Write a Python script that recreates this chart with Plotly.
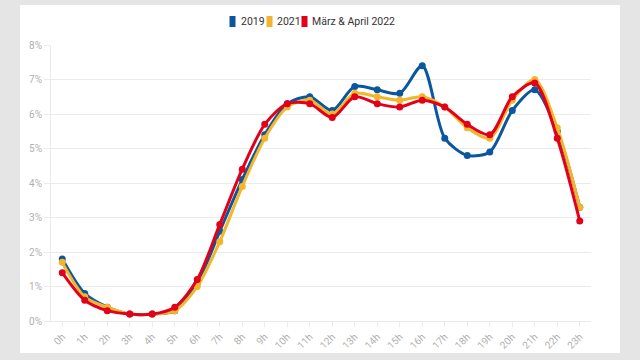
import plotly.graph_objects as go

hours = [f"{h}h" for h in range(24)]
y2019 = [1.8, 0.8, 0.4, 0.2, 0.2, 0.3, 1.1, 2.6, 4.1, 5.4, 6.3, 6.5, 6.1, 6.8, 6.7, 6.6, 7.4, 5.3, 4.8, 4.9, 6.1, 6.7, 5.5, 3.3]
y2021 = [1.7, 0.7, 0.4, 0.2, 0.2, 0.3, 1.0, 2.3, 3.9, 5.3, 6.2, 6.4, 6.0, 6.6, 6.5, 6.4, 6.5, 6.2, 5.6, 5.3, 6.4, 7.0, 5.6, 3.3]
y2022 = [1.4, 0.6, 0.3, 0.2, 0.2, 0.4, 1.2, 2.8, 4.4, 5.7, 6.3, 6.3, 5.9, 6.5, 6.3, 6.2, 6.4, 6.2, 5.7, 5.4, 6.5, 6.9, 5.3, 2.9]
series_names = ["2019", "2021", "März & April 2022"]
colors = ["#0a57a0", "#f4b52a", "#e2001a"]

L, R, T, B = 51, 49, 45, 39
W, H = 640, 360
PW, PH = W - L - R, H - T - B

def px(x):
    return (x - L) / PW

def py(y):
    return (H - B - y) / PH

fig = go.Figure()
for name, ys, c in zip(series_names, [y2019, y2021, y2022], colors):
    fig.add_trace(go.Scatter(
        x=hours, y=ys, mode="lines+markers", name=name,
        line=dict(color=c, width=3, shape="spline", smoothing=0.8),
        marker=dict(color=c, size=7), showlegend=False,
        hovertemplate="%{x}: %{y}%<extra>" + name + "</extra>"))

# white panel
fig.add_shape(type="rect", xref="paper", yref="paper",
              x0=px(20), x1=px(620), y0=py(353), y1=py(5),
              fillcolor="white", line=dict(width=0), layer="below")

# custom compact legend
legend_pos = [(229.5, 240), (266.5, 276), (301.5, 311)]
for (sx, tx), name, c in zip(legend_pos, series_names, colors):
    fig.add_shape(type="rect", xref="paper", yref="paper",
                  x0=px(sx + 1), x1=px(sx + 5), y0=py(26), y1=py(17),
                  fillcolor=c, line=dict(color=c, width=2), layer="above")
    fig.add_annotation(text=name, xref="paper", yref="paper",
                       x=px(tx - 1), y=py(21.5), xanchor="left", yanchor="middle",
                       showarrow=False, font=dict(size=10.5, color="#333333"))

fig.update_layout(
    width=W, height=H,
    margin=dict(l=L, r=R, t=T, b=B, autoexpand=False),
    paper_bgcolor="#e5e5e5", plot_bgcolor="rgba(0,0,0,0)",
    font=dict(family="Roboto, sans-serif", color="#333333"),
    showlegend=False,
    xaxis=dict(type="category", range=[-0.5, 23.5], showgrid=False,
               tickangle=-45, tickfont=dict(size=10, color="#b0b0b0"),
               ticks="outside", ticklen=5, tickcolor="#ebebeb",
               showline=True, linecolor="#ebebeb", linewidth=1, zeroline=False,
               automargin=False),
    yaxis=dict(range=[0, 8], dtick=1, ticksuffix="%", showgrid=True,
               gridcolor="#ebebeb", gridwidth=1, zeroline=False,
               tickfont=dict(size=10, color="#b0b0b0"),
               ticks="outside", ticklen=6, tickcolor="#ebebeb",
               showline=True, linecolor="#ebebeb", linewidth=1,
               automargin=False),
)

fig.write_html("out.html", config={"displayModeBar": False},
               post_script="document.body.style.margin='0';document.body.style.padding='0';")
